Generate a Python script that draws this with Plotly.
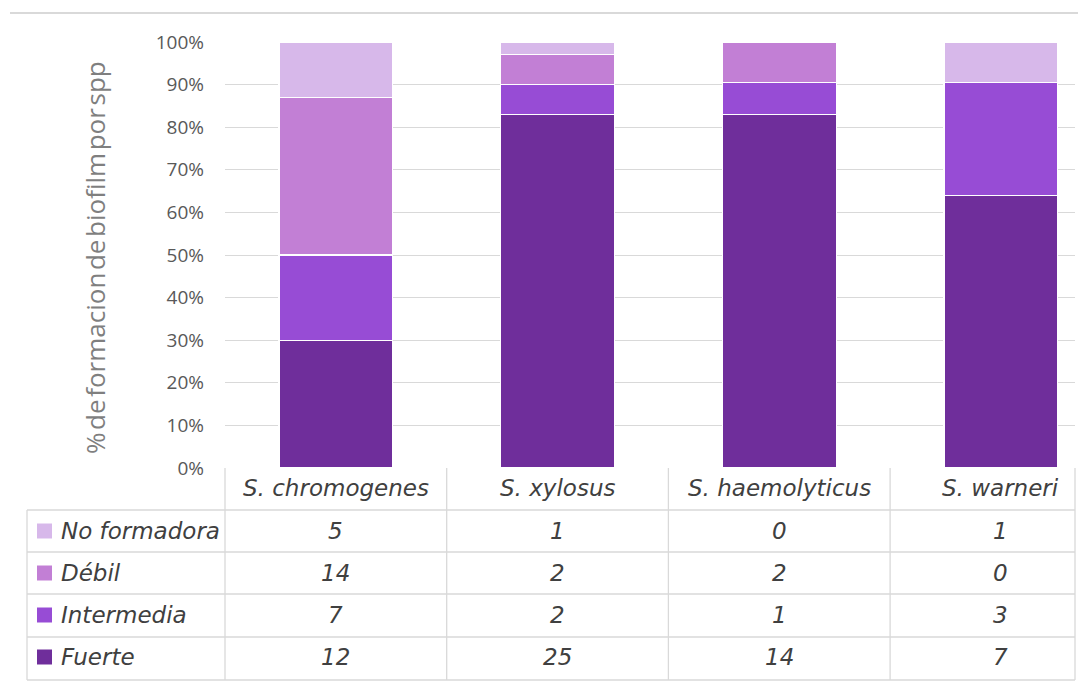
import plotly.graph_objects as go

species = ["S. chromogenes", "S. xylosus", "S. haemolyticus", "S. warneri"]
# counts shown in the data table
fuerte = [12, 25, 14, 7]
intermedia = [7, 2, 1, 3]
debil = [14, 2, 2, 0]
no_formadora = [5, 1, 0, 1]
# percentages
fuerte_pct = [30, 83, 83, 64]
intermedia_pct = [20, 7, 7.5, 26.5]
debil_pct = [37, 7, 9.5, 0]
no_formadora_pct = [13, 3, 0, 9.5]
y_ticks = [0, 10, 20, 30, 40, 50, 60, 70, 80, 90, 100]

series = [
    ("Fuerte", fuerte, fuerte_pct, "#6F2E9B"),
    ("Intermedia", intermedia, intermedia_pct, "#974CD5"),
    ("Débil", debil, debil_pct, "#C27FD5"),
    ("No formadora", no_formadora, no_formadora_pct, "#D7B8EA"),
]

W, H = 1078, 682
L, R, T, B = 225, 3, 42, 214
PW, PH = W - L - R, H - T - B
CAT_W = 221.7


def px(x):
    return (x - L) / PW


def py(y):
    return (H - B - y) / PH


fig = go.Figure()
for name, counts, pct, col in series:
    fig.add_trace(go.Bar(
        x=species, y=pct, name=name,
        marker=dict(color=col, line=dict(color="white", width=1.2)),
        showlegend=False,
    ))

grid = "#d9d9d9"
shapes = []
annotations = []
tfont = dict(family="DejaVu Sans", size=23, color="#404040")

# table horizontal lines
for yy in [510, 552, 594, 637, 680]:
    shapes.append(dict(type="line", xref="paper", yref="paper", x0=px(27), x1=1, y0=py(yy), y1=py(yy),
                       line=dict(color=grid, width=1.3)))
# table vertical lines (between categories)
for xv in [0.5, 1.5, 2.5]:
    shapes.append(dict(type="line", xref="x", yref="paper", x0=xv, x1=xv, y0=py(468), y1=py(680),
                       line=dict(color=grid, width=1.3)))
for xp in [0, 1]:
    shapes.append(dict(type="line", xref="paper", yref="paper", x0=xp, x1=xp, y0=py(468), y1=py(680),
                       line=dict(color=grid, width=1.3)))
shapes.append(dict(type="line", xref="paper", yref="paper", x0=px(27), x1=px(27), y0=py(510), y1=py(680),
                   line=dict(color=grid, width=1.3)))
# top border line
shapes.append(dict(type="line", xref="paper", yref="paper", x0=px(10), x1=px(1078), y0=py(13), y1=py(13),
                   line=dict(color="#d9d9d9", width=2)))

# header
for sp in species:
    annotations.append(dict(x=sp, xref="x", y=py(488), yref="paper", text=f"<i>{sp}</i>", showarrow=False,
                            font=tfont, xanchor="center", yanchor="middle"))

row_centers = [531, 573, 615, 657]
for (name, counts, pct, col), yc in zip(series[::-1], row_centers):
    shapes.append(dict(type="rect", xref="paper", yref="paper", x0=px(37), x1=px(52), y0=py(yc - 7.5), y1=py(yc + 7.5),
                       fillcolor=col, line=dict(width=0)))
    annotations.append(dict(x=px(59), xref="paper", y=py(yc), yref="paper", text=f"<i>{name}</i>", showarrow=False,
                            font=tfont, xanchor="left", yanchor="middle"))
    for sp, v in zip(species, counts):
        annotations.append(dict(x=sp, xref="x", y=py(yc), yref="paper", text=f"<i>{v}</i>", showarrow=False,
                                font=tfont, xanchor="center", yanchor="middle"))

# y axis title
annotations.append(dict(x=px(95), xref="paper", y=py(258), yref="paper",
                        text="%\u200ade\u200aformacion\u200ade\u200abiofilm\u200apor\u200aspp",
                        textangle=-90, showarrow=False,
                        font=dict(family="Open Sans", size=26, color="#7f7f7f"),
                        xanchor="center", yanchor="middle"))

fig.update_layout(
    width=W, height=H,
    margin=dict(l=L, r=R, t=T, b=B),
    barmode="stack", bargap=0.487,
    plot_bgcolor="white", paper_bgcolor="white",
    xaxis=dict(range=[-0.5, -0.5 + PW / CAT_W], showticklabels=False, showgrid=False, zeroline=False,
               showline=False, ticks=""),
    yaxis=dict(range=[0, 100], tickvals=y_ticks, ticktext=[f"{v}%" for v in y_ticks],
               showgrid=True, gridcolor=grid, gridwidth=1.3, zeroline=False, showline=False,
               tickfont=dict(family="Open Sans", size=19, color="#595959"),
               ticks="", ticklabelstandoff=20),
    shapes=shapes, annotations=annotations,
)

fig.write_html("out.html")
